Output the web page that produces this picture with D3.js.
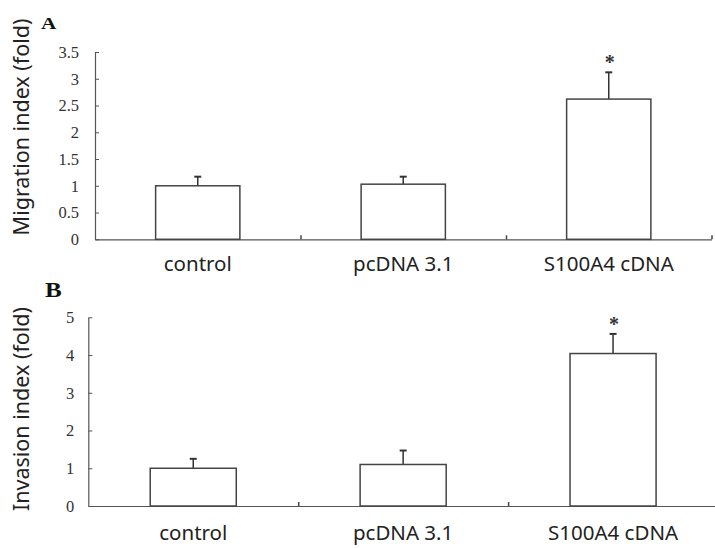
<!DOCTYPE html>
<html>
<head>
<meta charset="utf-8">
<script src="https://cdn.jsdelivr.net/npm/d3@7"></script>
<style>
  body { margin: 0; background: #fff; }
  .tick text { font-family: "Liberation Serif", "Times New Roman", serif; }
</style>
</head>
<body>
<script>

// data
var categories = ["control", "pcDNA 3.1", "S100A4 cDNA"];
var migration = [1.0, 1.03, 2.62];
var migrationErr = [0.17, 0.14, 0.5];
var invasion = [1.0, 1.1, 4.04];
var invasionErr = [0.25, 0.37, 0.52];
var migrationTicks = [0, 0.5, 1, 1.5, 2, 2.5, 3, 3.5];
var invasionTicks = [0, 1, 2, 3, 4, 5];
var significant = [false, false, true];

var svg = d3.select("body")
    .append("svg")
    .attr("width", 715)
    .attr("height", 548);

// one panel = letter, y axis, bars with error bars, category labels
function panel(opts) {
  var g = svg.append("g");

  var x = d3.scaleBand()
      .domain(categories)
      .range([opts.left, opts.right])
      .paddingInner(0.59)
      .paddingOuter(0.295);

  var xb = d3.scaleLinear()
      .domain([0, categories.length])
      .range([opts.left, opts.right]);

  var y = d3.scaleLinear()
      .domain([0, opts.max])
      .range([opts.bottom, opts.top]);

  // y axis, ticks pointing inward
  var ya = g.append("g")
      .attr("transform", "translate(" + opts.left + ",0)")
      .call(d3.axisLeft(y)
        .tickValues(opts.ticks)
        .tickSizeInner(-4)
        .tickSizeOuter(0)
        .tickPadding(opts.pad)
        .tickFormat(function(d) { return d; }));
  ya.select(".domain").attr("stroke", "#555").attr("stroke-width", 1.2);
  ya.selectAll(".tick line").attr("stroke", "#555");
  ya.selectAll(".tick text").attr("fill", "#333").attr("font-size", 16.5)
    .attr("text-anchor", "end");

  // x axis with boundary ticks
  var xa = g.append("g")
      .attr("transform", "translate(0," + opts.bottom + ")")
      .call(d3.axisBottom(xb)
        .tickValues(d3.range(1, categories.length + 1))
        .tickSizeInner(-4)
        .tickSizeOuter(0)
        .tickFormat(""));
  xa.select(".domain").attr("stroke", "#555").attr("stroke-width", 1.2);
  xa.selectAll(".tick line").attr("stroke", "#444").attr("stroke-width", 1.5);

  var bars = g.selectAll(".bar")
    .data(opts.values)
    .enter().append("g")
      .attr("class", "bar");

  // error bars (upper only)
  bars.append("line")
      .attr("x1", function(d, i) { return x(categories[i]) + x.bandwidth() / 2; })
      .attr("x2", function(d, i) { return x(categories[i]) + x.bandwidth() / 2; })
      .attr("y1", function(d) { return y(d); })
      .attr("y2", function(d, i) { return y(d + opts.err[i]); })
      .attr("stroke", "#333")
      .attr("stroke-width", 1.5);
  bars.append("line")
      .attr("x1", function(d, i) { return x(categories[i]) + x.bandwidth() / 2 - 3.5; })
      .attr("x2", function(d, i) { return x(categories[i]) + x.bandwidth() / 2 + 3.5; })
      .attr("y1", function(d, i) { return y(d + opts.err[i]); })
      .attr("y2", function(d, i) { return y(d + opts.err[i]); })
      .attr("stroke", "#333")
      .attr("stroke-width", 2);

  bars.append("rect")
      .attr("x", function(d, i) { return x(categories[i]); })
      .attr("y", function(d) { return y(d); })
      .attr("width", x.bandwidth())
      .attr("height", function(d) { return opts.bottom - y(d); })
      .attr("fill", "#fff")
      .attr("stroke", "#444")
      .attr("stroke-width", 1.5);

  // asterisks
  bars.filter(function(d, i) { return significant[i]; })
    .append("text")
      .attr("x", function(d, i) { return x(categories[2]) + x.bandwidth() / 2 + 1; })
      .attr("y", function(d) { return y(d + opts.err[2]) - 3; })
      .attr("text-anchor", "middle")
      .attr("font-family", "Liberation Serif, serif")
      .attr("font-weight", "bold")
      .attr("font-size", 20)
      .attr("dy", "0.7em")
      .attr("transform", "translate(0,-14)")
      .attr("fill", "#333")
      .text("*");

  // category labels
  g.selectAll(".cat")
    .data(categories)
    .enter().append("text")
      .attr("class", "cat")
      .attr("x", function(d) { return x(d) + x.bandwidth() / 2; })
      .attr("y", opts.labelY)
      .attr("text-anchor", "middle")
      .attr("font-family", "Noto Sans, sans-serif")
      .attr("font-size", 20.5)
      .attr("fill", "#222")
      .text(function(d) { return d; });

  // y title
  g.append("text")
      .attr("transform", "translate(29," + opts.titleY + ") rotate(-90)")
      .attr("text-anchor", "middle")
      .attr("font-family", "Noto Sans, sans-serif")
      .attr("font-size", 21.5)
      .attr("fill", "#222")
      .text(opts.title);

  // panel letter
  g.append("text")
      .attr("transform", "translate(" + opts.letterX + "," + opts.letterY + ") scale(1.25,1)")
      .attr("font-family", "Liberation Serif, serif")
      .attr("font-weight", "bold")
      .attr("font-size", opts.letterSize)
      .attr("fill", "#111")
      .text(opts.letter);
}

panel({
  letter: "A", letterX: 41, letterY: 28.5, letterSize: 17,
  values: migration, err: migrationErr,
  max: 3.5, ticks: migrationTicks,
  left: 95, right: 711.5, top: 52, bottom: 239.3, pad: 16,
  labelY: 271, title: "Migration index (fold)", titleY: 127
});

panel({
  letter: "B", letterX: 45, letterY: 297, letterSize: 20,
  values: invasion, err: invasionErr,
  max: 5, ticks: invasionTicks,
  left: 88.3, right: 718, top: 317.3, bottom: 506, pad: 14,
  labelY: 540, title: "Invasion index (fold)", titleY: 409
});

</script>
</body>
</html>
